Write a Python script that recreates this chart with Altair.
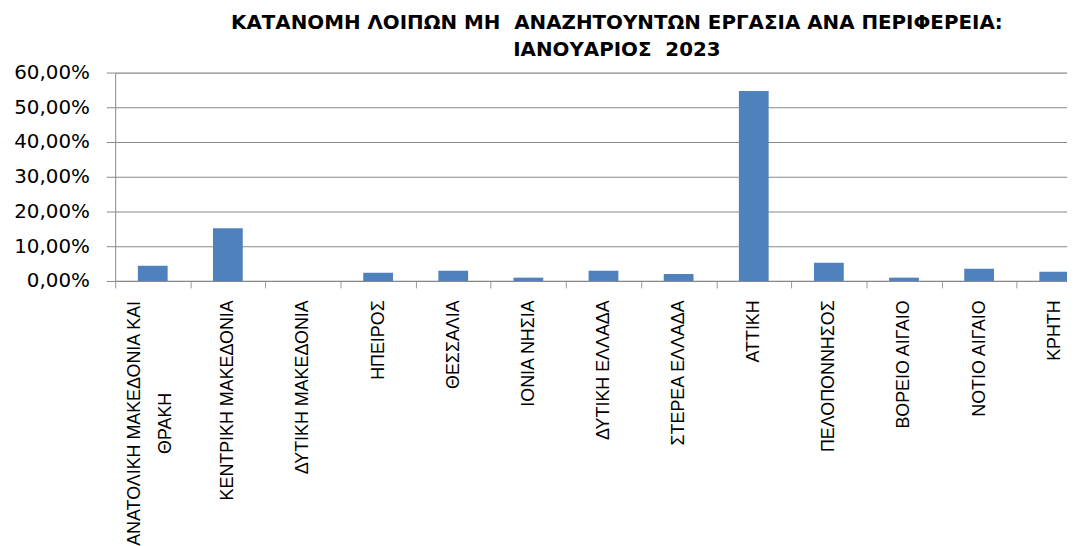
import altair as alt
import pandas as pd

regions = [
    "ΑΝΑΤΟΛΙΚΗ ΜΑΚΕΔΟΝΙΑ ΚΑΙ ΘΡΑΚΗ",
    "ΚΕΝΤΡΙΚΗ ΜΑΚΕΔΟΝΙΑ",
    "ΔΥΤΙΚΗ ΜΑΚΕΔΟΝΙΑ",
    "ΗΠΕΙΡΟΣ",
    "ΘΕΣΣΑΛΙΑ",
    "ΙΟΝΙΑ ΝΗΣΙΑ",
    "ΔΥΤΙΚΗ ΕΛΛΑΔΑ",
    "ΣΤΕΡΕΑ ΕΛΛΑΔΑ",
    "ΑΤΤΙΚΗ",
    "ΠΕΛΟΠΟΝΝΗΣΟΣ",
    "ΒΟΡΕΙΟ ΑΙΓΑΙΟ",
    "ΝΟΤΙΟ ΑΙΓΑΙΟ",
    "ΚΡΗΤΗ",
]
shares = [4.38, 15.16, 0.0, 2.38, 2.95, 0.95, 2.95, 2.00, 54.70, 5.24, 0.95, 3.52, 2.66]
y_ticks = [0, 10, 20, 30, 40, 50, 60]
title_lines = ["ΚΑΤΑΝΟΜΗ ΛΟΙΠΩΝ ΜΗ\u00a0 ΑΝΑΖΗΤΟΥΝΤΩΝ ΕΡΓΑΣΙΑ ΑΝΑ ΠΕΡΙΦΕΡΕΙΑ:", "ΙΑΝΟΥΑΡΙΟΣ\u00a0 2023"]

df = pd.DataFrame({"region": regions, "share": shares})

first = regions[0]
is_first = "datum.value == '" + first + "'"
label_expr = is_first + " ? ['ΑΝΑΤΟΛΙΚΗ ΜΑΚΕΔΟΝΙΑ ΚΑΙ', 'ΘΡΑΚΗ'] : datum.label"

chart = (
    alt.Chart(df)
    .mark_bar(size=30, color="#4F81BD")
    .encode(
        x=alt.X(
            "region:N",
            sort=None,
            title=None,
            scale=alt.Scale(range=[0, 984], paddingInner=0, paddingOuter=0),
            axis=alt.Axis(
                labelAngle=-90,
                labelAlign=alt.condition(is_first, alt.value("center"), alt.value("right")),
                labelBaseline="middle",
                labelFont="Liberation Sans",
                labelFontSize=18,
                labelColor="black",
                labelLineHeight=31,
                labelPadding=alt.condition(is_first, alt.value(136), alt.value(12)),
                labelOffset=alt.condition(is_first, alt.value(-18), alt.value(0)),
                labelExpr=label_expr,
                labelOverlap=False,
                labelLimit=0,
                tickBand="extent",
                tickSize=7,
                tickColor="#999999",
                domainColor="#888888",
                grid=False,
            ),
        ),
        y=alt.Y(
            "share:Q",
            title=None,
            scale=alt.Scale(domain=[0, 60], nice=False),
            axis=alt.Axis(
                values=y_ticks,
                labelExpr="replace(format(datum.value, '.2f'), '.', ',') + '%'",
                labelFont="DejaVu Sans",
                labelFontSize=20,
                labelColor="black",
                labelPadding=17,
                tickSize=9,
                tickColor="#888888",
                domainColor="#888888",
                gridColor="#888888",
                gridWidth=1.2,
            ),
        ),
    )
    .properties(
        width=951,
        height=210,
        autosize=alt.AutoSizeParams(type="none"),
        padding={"left": 108, "top": 63, "right": 8, "bottom": 265},
        title=alt.TitleParams(
            text=title_lines,
            font="DejaVu Sans",
            fontSize=20,
            fontWeight="bold",
            color="black",
            anchor="middle",
            dx=30,
            lineHeight=27,
            offset=3,
        ),
    )
    .configure_view(stroke=None)
)

chart.save("out.html", embed_options={"renderer": "svg", "actions": False})
